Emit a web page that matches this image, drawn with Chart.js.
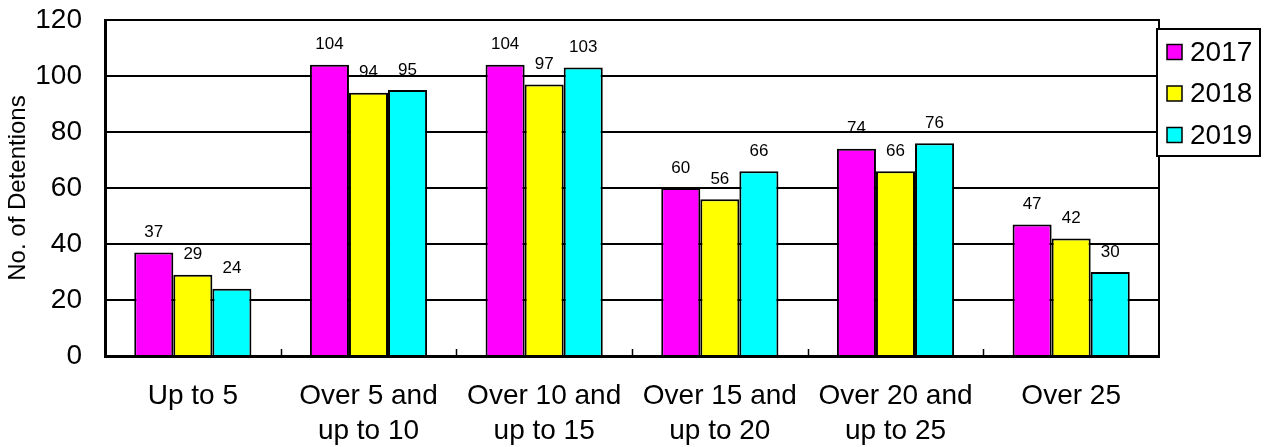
<!DOCTYPE html>
<html>
<head>
<meta charset="utf-8">
<script src="https://cdn.jsdelivr.net/npm/chart.js@4"></script>
<style>
html,body{margin:0;padding:0;background:#fff;}
#wrap{width:1266px;height:447px;}
</style>
</head>
<body>
<div id="wrap"><canvas id="chart" width="1266" height="447"></canvas></div>
<script>
const categories=[["Up to 5"],["Over 5 and","up to 10"],["Over 10 and","up to 15"],["Over 15 and","up to 20"],["Over 20 and","up to 25"],["Over 25"]];
const years=["2017","2018","2019"];
const values2017=[37,104,104,60,74,47];
const values2018=[29,94,97,56,66,42];
const values2019=[24,95,103,66,76,30];
const colors=["#ff00ff","#ffff00","#00ffff"];

const FONT="'Liberation Sans', Arial, sans-serif";

// frame + little inward ticks between categories
const frame={
id:"frame",
afterDatasetsDraw(chart){
const c=chart.ctx,a=chart.chartArea,x=chart.scales.x;
c.save();
c.strokeStyle="#000";
c.lineWidth=2;
c.beginPath();
c.moveTo(a.left,a.top);c.lineTo(a.right,a.top);c.lineTo(a.right,a.bottom);
c.stroke();
c.lineWidth=1.5;
for(let i=1;i<categories.length;i++){
const px=Math.round((x.getPixelForValue(i-1)+x.getPixelForValue(i))/2)+0.5;
c.beginPath();c.moveTo(px,a.bottom);c.lineTo(px,a.bottom-7);c.stroke();
}
c.restore();
}
};

// value labels above bars
const valueLabels={
id:"valueLabels",
afterDatasetsDraw(chart){
const c=chart.ctx;
c.save();
c.font="17px "+FONT;
c.fillStyle="#000";
c.textAlign="center";
c.textBaseline="middle";
chart.data.datasets.forEach((ds,i)=>{
chart.getDatasetMeta(i).data.forEach((el,j)=>{
c.fillText(ds.data[j],el.x,el.y-20);
});
});
c.restore();
}
};

// boxed legend on the right
const boxLegend={
id:"boxLegend",
afterDraw(chart){
const c=chart.ctx;
const bx=1157,by=29,bw=103,bh=127;
c.save();
c.fillStyle="#fff";
c.fillRect(bx,by,bw,bh);
c.strokeStyle="#000";
c.lineWidth=2;
c.strokeRect(bx,by,bw,bh);
c.font="28px "+FONT;
c.textAlign="left";
c.textBaseline="middle";
chart.data.datasets.forEach((ds,i)=>{
const cy=by+23+i*41.5;
c.fillStyle=ds.backgroundColor;
c.fillRect(bx+10,cy-7.5,15,15);
c.lineWidth=1.5;
c.strokeRect(bx+10,cy-7.5,15,15);
c.fillStyle="#000";
c.fillText(ds.label,bx+33,cy+1);
});
c.restore();
}
};

const series=[values2017,values2018,values2019];

new Chart(document.getElementById("chart"),{
type:"bar",
data:{
labels:categories,
datasets:series.map((s,i)=>({
label:years[i],
data:s,
backgroundColor:colors[i],
borderColor:"#000",
borderWidth:2,
categoryPercentage:0.667,
barPercentage:1
}))
},
options:{
responsive:false,
animation:false,
layout:{padding:{left:0,right:107,top:20,bottom:0}},
plugins:{legend:{display:false},tooltip:{enabled:false}},
scales:{
x:{
grid:{display:false},
border:{display:true,color:"#000",width:3},
ticks:{color:"#000",font:{size:28,family:FONT,lineHeight:1.25},padding:15,maxRotation:0,autoSkip:false},
afterFit(s){s.height=91;}
},
y:{
min:0,max:120,
ticks:{stepSize:20,color:"#000",font:{size:28,family:FONT},padding:23},
grid:{color:"#000",lineWidth:2,drawTicks:false},
border:{display:true,color:"#000",width:3},
title:{display:true,text:"No. of Detentions",color:"#000",font:{size:24,family:FONT},padding:{top:4,bottom:0}},
afterFit(s){s.width=105;s.paddingTop=0;s.paddingBottom=0;}
}
}
},
plugins:[frame,valueLabels,boxLegend]
});
</script>
</body>
</html>
